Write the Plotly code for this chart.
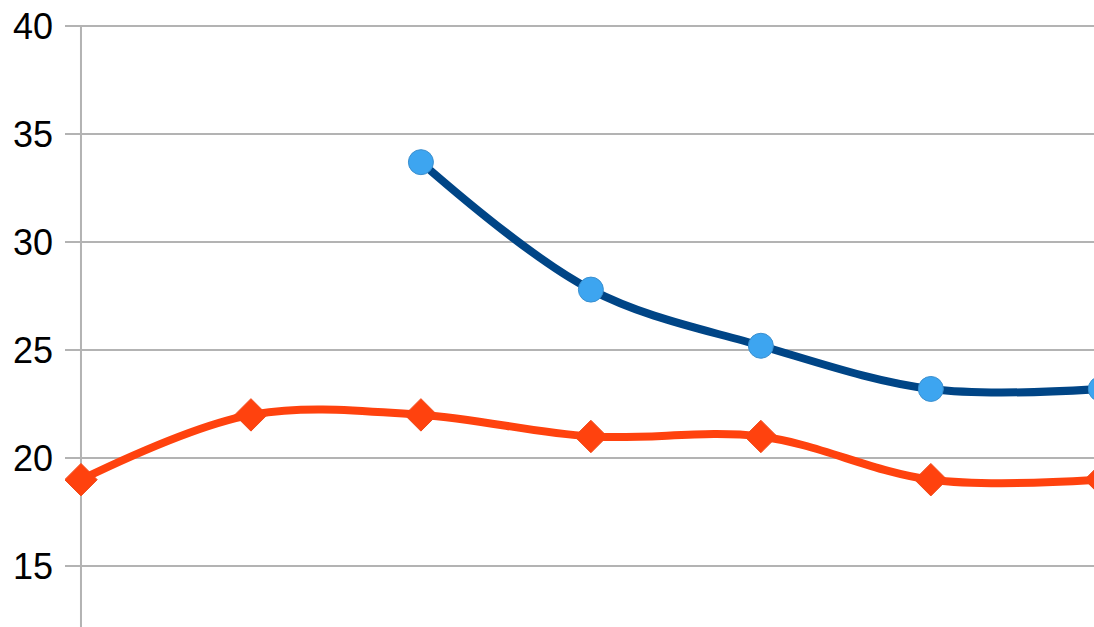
import plotly.graph_objects as go

x_idx = [0, 1, 2, 3, 4, 5, 6]
blue_vals = [None, None, 33.7, 27.8, 25.2, 23.2, 23.2]
orange_vals = [19, 22, 22, 21, 21, 19, 19]
y_ticks = [15, 20, 25, 30, 35, 40]

fig = go.Figure()
fig.add_trace(go.Scatter(
    x=x_idx, y=orange_vals, mode="lines+markers",
    line=dict(color="#ff420e", width=8, shape="spline", smoothing=1.0),
    marker=dict(symbol="diamond", size=25, color="#ff420e",
                line=dict(color="#f04a1a", width=1)),
    showlegend=False,
))
fig.add_trace(go.Scatter(
    x=x_idx, y=blue_vals, mode="lines+markers",
    line=dict(color="#004586", width=8, shape="spline", smoothing=1.0),
    marker=dict(symbol="circle", size=25, color="#3da5f0",
                line=dict(color="#3a8fcf", width=1)),
    showlegend=False,
))

# vertical axis line at the first category
fig.add_shape(type="line", xref="x", yref="paper", x0=0, x1=0, y0=0, y1=1,
              line=dict(color="#b3b3b3", width=2), layer="below")

fig.update_layout(
    width=1094, height=627,
    margin=dict(l=65, r=0, t=25, b=0),
    paper_bgcolor="white", plot_bgcolor="white",
    font=dict(family="Liberation Sans", size=36, color="#000000"),
    xaxis=dict(range=[-0.094, 5.96], showgrid=False, zeroline=False,
               showticklabels=False, ticks="", showline=False),
    yaxis=dict(range=[12.18, 40.05], tickvals=y_ticks, showgrid=True,
               gridcolor="#b3b3b3", gridwidth=2, zeroline=False,
               showline=False, ticks="", ticklabelstandoff=11),
)

fig.write_html("out.html")
